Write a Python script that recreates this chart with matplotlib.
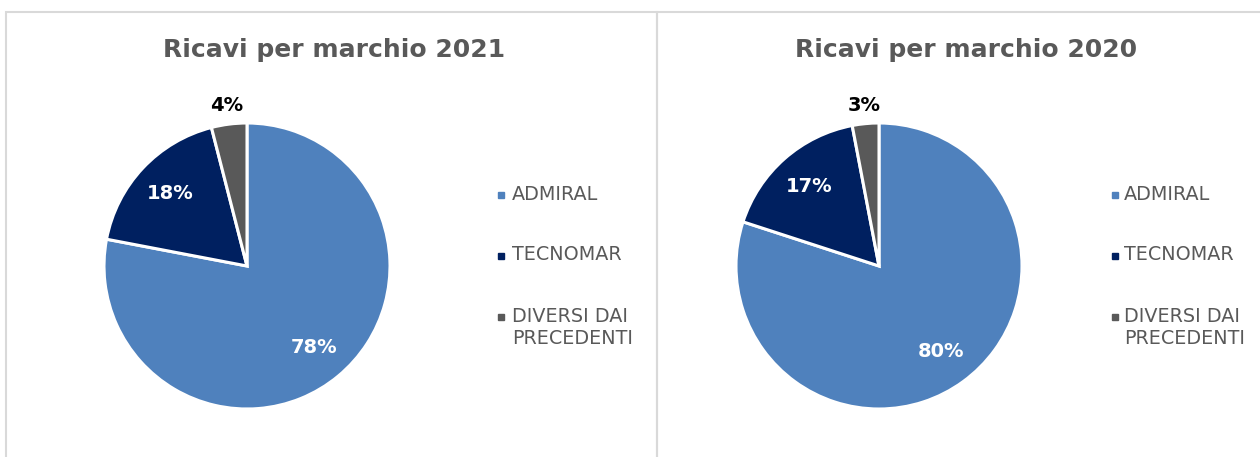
import matplotlib
matplotlib.use("Agg")
import matplotlib.pyplot as plt
from matplotlib.lines import Line2D
from matplotlib.patches import Rectangle
import numpy as np

categories = ["ADMIRAL", "TECNOMAR", "DIVERSI DAI\nPRECEDENTI"]
values_2021 = [78, 18, 4]
values_2020 = [80, 17, 3]
titles = ["Ricavi per marchio 2021", "Ricavi per marchio 2020"]
colors = ["#4F81BD", "#002060", "#595959"]

W, H = 1260, 457
fig = plt.figure(figsize=(W / 100, H / 100), dpi=100)
plt.rcParams['font.family'] = ['DejaVu Sans']

def px_axes(cx, cy, r):
    return fig.add_axes([(cx - r) / W, (H - cy - r) / H, 2 * r / W, 2 * r / H])

def fx(x):
    return x / W

def fy(y):
    return 1 - y / H

# panel borders
for (x0, x1) in [(6, 657), (657, 1262)]:
    fig.patches.append(Rectangle((x0 / W, -0.05), (x1 - x0) / W, (H - 12) / H + 0.05,
                                 transform=fig.transFigure, fill=False,
                                 edgecolor="#D9D9D9", linewidth=1.5))

panels = [
    dict(vals=values_2021, cx=247, cy=266, title_x=334, mk_x=501.5, tx_x=512),
    dict(vals=values_2020, cx=879, cy=266, title_x=966, mk_x=1114.5, tx_x=1124),
]

for p, title in zip(panels, titles):
    ax = px_axes(p["cx"], p["cy"], 143)
    wedges, _ = ax.pie(p["vals"], colors=colors, startangle=90, counterclock=False,
                       radius=1.0, wedgeprops=dict(edgecolor="white", linewidth=2.2))
    ax.set_xlim(-1, 1)
    ax.set_ylim(-1, 1)
    ax.axis("off")
    for w, v in zip(wedges, p["vals"]):
        mid = np.deg2rad((w.theta1 + w.theta2) / 2)
        if v < 5:
            d, c = 1.13, "black"
        else:
            d, c = 0.74, "white"
        ax.text(d * np.cos(mid), d * np.sin(mid), f"{v}%", ha="center", va="center",
                fontsize=14, fontweight="bold", color=c)
    fig.text(fx(p["title_x"]), fy(50), title, ha="center", va="center",
             fontsize=18, fontweight="bold", color="#595959")
    # legend
    for i, (cat, col) in enumerate(zip(categories, colors)):
        yc = 195 + 61 * i
        fig.add_artist(Line2D([fx(p["mk_x"])], [fy(yc)], transform=fig.transFigure,
                              linestyle="none", marker="s", markersize=4.5,
                              markerfacecolor=col, markeredgecolor=col))
        fig.text(fx(p["tx_x"]), fy(yc - 10.5), cat, ha="left", va="top",
                 fontsize=13.8, color="#595959", linespacing=1.2)

fig.savefig("out.png", dpi=100)
